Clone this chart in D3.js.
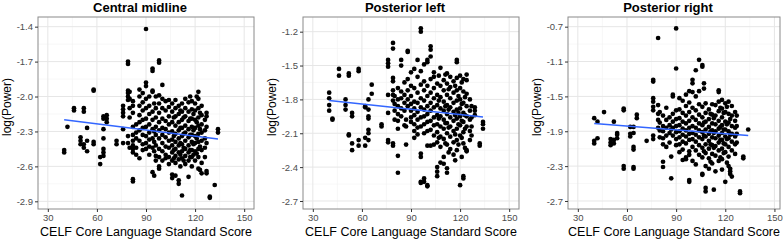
<!DOCTYPE html>
<html>
<head>
<meta charset="utf-8">
<script src="https://cdn.jsdelivr.net/npm/d3@7"></script>
<style>
  body { margin: 0; background: #fff; }
  svg { display: block; font-family: "Liberation Sans", Arial, sans-serif; }
</style>
</head>
<body>
<div id="chart"></div>
<script>
// Panel titles and axis labels
const panelTitles = ["Central midline", "Posterior left", "Posterior right"];
const xAxisTitle = "CELF Core Language Standard Score";
const yAxisTitle = "log(Power)";

// Tick labels
const xTicks = [30, 60, 90, 120, 150];
const yTicksCentral = [-1.4, -1.7, -2.0, -2.3, -2.6, -2.9];
const yTicksLeft = [-1.2, -1.5, -1.8, -2.1, -2.4, -2.7];
const yTicksRight = [-0.7, -1.1, -1.5, -1.9, -2.3, -2.7];

// Linear fit end points
const fitCentral = [[40, -2.20], [134, -2.365]];
const fitLeft = [[40, -1.81], [134, -1.955]];
const fitRight = [[40, -1.81], [134, -1.95]];

// Points: [score, [log power values...]]
const centralMidline = [
  [40, [-2.46, -2.48]],
  [42, [-2.26]],
  [46, [-2.10, -2.12]],
  [50, [-2.35, -2.38, -2.41]],
  [52, [-2.10, -2.13, -2.41, -2.44]],
  [54, [-2.27, -2.38, -2.47]],
  [58, [-1.94, -1.95, -2.39, -2.41]],
  [62, [-2.52, -2.58]],
  [64, [-2.17, -2.19, -2.28, -2.36, -2.45, -2.48, -2.51]],
  [66, [-2.16, -2.19, -2.22]],
  [72, [-2.38, -2.41]],
  [76, [-2.08, -2.11, -2.14, -2.17, -2.28, -2.40]],
  [79, [-1.70, -1.72, -1.95, -1.97, -2.00, -2.03, -2.34, -2.40]],
  [80, [-1.96, -2.02, -2.10, -2.18, -2.44]],
  [82, [-2.04, -2.08, -2.14, -2.26, -2.33, -2.38, -2.42, -2.45, -2.48, -2.71, -2.73]],
  [84, [-2.24, -2.31, -2.36, -2.44, -2.50]],
  [86, [-1.94, -2.00, -2.08, -2.16, -2.22, -2.29, -2.38, -2.53]],
  [88, [-1.97, -2.05, -2.12, -2.20, -2.27, -2.33, -2.41, -2.46]],
  [90, [-1.42, -1.88, -1.91, -2.02, -2.10, -2.19, -2.26, -2.34, -2.40, -2.45]],
  [92, [-2.00, -2.08, -2.15, -2.24, -2.31, -2.37, -2.43, -2.50]],
  [94, [-1.76, -1.78, -1.95, -1.96, -2.13, -2.20, -2.28, -2.36, -2.44, -2.65]],
  [95, [-2.06, -2.30, -2.39, -2.47, -2.68]],
  [96, [-2.00, -2.10, -2.18, -2.26, -2.33, -2.42, -2.51, -2.55]],
  [98, [-1.69, -1.71, -1.99, -2.06, -2.14, -2.22, -2.29, -2.36, -2.45, -2.52, -2.60, -2.62]],
  [100, [-1.90, -2.02, -2.10, -2.19, -2.27, -2.33, -2.40, -2.47, -2.55]],
  [102, [-2.04, -2.12, -2.21, -2.28, -2.35, -2.43, -2.50, -2.53]],
  [104, [-2.03, -2.09, -2.17, -2.24, -2.31, -2.38, -2.44, -2.52, -2.58]],
  [106, [-2.06, -2.13, -2.22, -2.30, -2.37, -2.42, -2.48, -2.55, -2.67, -2.70]],
  [107, [-2.18, -2.34, -2.46, -2.53]],
  [108, [-2.03, -2.10, -2.17, -2.25, -2.32, -2.39, -2.45, -2.51, -2.57, -2.68]],
  [110, [-2.08, -2.15, -2.22, -2.29, -2.36, -2.42, -2.48, -2.54, -2.72, -2.75]],
  [111, [-2.12, -2.27, -2.40, -2.50, -2.60]],
  [112, [-2.06, -2.13, -2.20, -2.27, -2.34, -2.41, -2.47, -2.53, -2.85]],
  [113, [-2.18, -2.32, -2.44, -2.55]],
  [114, [-2.02, -2.10, -2.17, -2.25, -2.31, -2.38, -2.45, -2.51, -2.58]],
  [116, [-2.05, -2.13, -2.21, -2.28, -2.35, -2.42, -2.48, -2.55, -2.69]],
  [117, [-2.00, -2.19, -2.33, -2.46, -2.52]],
  [118, [-2.04, -2.11, -2.19, -2.26, -2.33, -2.39, -2.46, -2.52, -2.60]],
  [119, [-2.15, -2.29, -2.41, -2.50]],
  [120, [-2.06, -2.12, -2.20, -2.27, -2.34, -2.40, -2.47, -2.55]],
  [121, [-2.00, -2.22, -2.36, -2.49]],
  [122, [-1.96, -2.02, -2.10, -2.18, -2.25, -2.32, -2.39, -2.45, -2.52, -2.62]],
  [123, [-2.14, -2.28, -2.43, -2.63]],
  [124, [-2.08, -2.16, -2.24, -2.31, -2.38, -2.46, -2.57, -2.66]],
  [126, [-2.20, -2.29, -2.36, -2.44, -2.52]],
  [127, [-2.14, -2.17, -2.26, -2.40, -2.64, -2.66]],
  [129, [-2.86, -2.87]],
  [132, [-2.76]],
  [134, [-2.28, -2.31]]
];

const posteriorLeft = [
  [40, [-1.74, -1.79, -1.85, -1.90]],
  [42, [-1.97, -1.98]],
  [46, [-1.53, -1.59]],
  [50, [-1.80, -1.85, -1.89]],
  [52, [-1.57, -1.59, -2.11, -2.12]],
  [54, [-1.92, -1.95, -2.19, -2.25]],
  [58, [-1.53, -1.55, -2.16, -2.21]],
  [62, [-1.86, -1.87, -2.14, -2.21]],
  [64, [-1.80, -1.89, -1.95, -1.97, -2.07, -2.10, -2.16]],
  [66, [-1.67, -1.75]],
  [72, [-2.02, -2.04]],
  [76, [-1.45, -1.48, -1.51, -1.76, -1.92, -2.16, -2.18]],
  [79, [-1.30, -1.35, -1.61, -1.64, -1.72, -1.76, -1.81, -2.19, -2.21]],
  [80, [-1.77, -1.84, -1.90, -1.98]],
  [82, [-1.70, -1.80, -1.86, -1.93, -1.99, -2.06, -2.30, -2.45]],
  [84, [-1.45, -1.50, -1.73, -1.79, -1.88, -1.95]],
  [86, [-1.65, -1.76, -1.83, -1.90, -2.03]],
  [87, [-1.98, -2.04, -2.20]],
  [88, [-1.37, -1.38, -1.62, -1.72, -1.80, -1.86]],
  [90, [-1.56, -1.68, -1.77, -1.84, -1.90, -1.96, -2.00]],
  [92, [-1.53, -1.70, -1.82, -1.88, -1.94, -2.02, -2.08, -2.14]],
  [94, [-1.45, -1.60, -1.74, -1.83, -1.91, -1.98, -2.05, -2.11]],
  [96, [-1.17, -1.20, -1.55, -1.67, -1.79, -1.87, -1.96, -2.04, -2.28, -2.31, -2.53, -2.54]],
  [98, [-1.49, -1.64, -1.72, -1.81, -1.89, -1.95, -2.02, -2.10, -2.50, -2.53]],
  [100, [-1.45, -1.47, -1.68, -1.77, -1.86, -1.93, -2.00, -2.08, -2.21, -2.56, -2.57]],
  [102, [-1.33, -1.36, -1.42, -1.62, -1.74, -1.83, -1.90, -1.99, -2.07, -2.21]],
  [104, [-1.56, -1.60, -1.70, -1.79, -1.87, -1.96, -2.03, -2.12, -2.20]],
  [106, [-1.66, -1.76, -1.85, -1.94, -2.02, -2.09, -2.18, -2.40, -2.44, -2.48]],
  [107, [-1.59, -1.81, -1.97, -2.14]],
  [108, [-1.52, -1.68, -1.78, -1.88, -1.95, -2.04, -2.13, -2.22, -2.36]],
  [110, [-1.63, -1.72, -1.82, -1.90, -1.98, -2.06, -2.15, -2.31, -2.37]],
  [111, [-1.58, -1.86, -2.01, -2.19]],
  [112, [-1.57, -1.66, -1.76, -1.85, -1.93, -2.01, -2.10, -2.20, -2.41, -2.45]],
  [113, [-1.71, -1.89, -2.05, -2.27]],
  [114, [-1.60, -1.69, -1.79, -1.87, -1.96, -2.04, -2.13, -2.24]],
  [116, [-1.64, -1.74, -1.83, -1.91, -1.99, -2.08, -2.18, -2.29]],
  [117, [-1.68, -1.94, -2.11, -2.34]],
  [118, [-1.45, -1.47, -1.61, -1.72, -1.81, -1.89, -1.97, -2.06, -2.16, -2.25]],
  [119, [-1.77, -1.92, -2.02, -2.20]],
  [120, [-1.59, -1.70, -1.80, -1.88, -1.95, -2.03, -2.12, -2.56]],
  [121, [-1.65, -1.84, -1.99, -2.14, -2.31]],
  [122, [-1.62, -1.73, -1.83, -1.92, -2.00, -2.09, -2.19, -2.48, -2.50]],
  [123, [-1.78, -1.94, -2.06, -2.23]],
  [124, [-1.58, -1.63, -1.75, -1.86, -1.95, -2.04, -2.25, -2.26]],
  [126, [-1.80, -1.90, -1.98, -2.08, -2.16]],
  [127, [-1.86, -1.96, -2.04, -2.12]],
  [129, [-1.87, -1.90, -1.94]],
  [132, [-2.19, -2.21]],
  [134, [-2.00, -2.02, -2.06]]
];

const posteriorRight = [
  [40, [-1.75, -2.01, -2.04]],
  [42, [-1.79, -1.98]],
  [46, [-1.68]],
  [50, [-1.99, -2.03, -2.06]],
  [52, [-1.79, -2.00, -2.04]],
  [54, [-1.92, -1.94, -1.98]],
  [58, [-1.64, -1.66, -2.30, -2.33]],
  [62, [-1.85, -1.93, -1.96]],
  [64, [-1.85, -1.92, -2.08, -2.11, -2.31, -2.33]],
  [66, [-1.71, -1.75]],
  [72, [-2.01]],
  [76, [-1.31, -1.33, -1.52, -1.56, -1.62, -1.66, -1.95, -1.99]],
  [79, [-0.83, -1.60, -1.70, -1.77, -1.86]],
  [80, [-1.68, -1.80, -1.89, -1.97]],
  [82, [-1.72, -1.84, -1.90, -1.98, -2.05, -2.25, -2.31]],
  [84, [-1.63, -1.77, -1.86, -1.95, -2.08]],
  [86, [-1.74, -1.83, -1.92, -2.03]],
  [87, [-1.88, -2.19, -2.44]],
  [88, [-1.48, -1.50, -1.70, -1.79, -1.86, -1.95]],
  [90, [-0.72, -1.18, -1.66, -1.76, -1.84, -1.91, -1.99, -2.06]],
  [92, [-1.52, -1.65, -1.75, -1.83, -1.90, -1.97, -2.05, -2.14]],
  [94, [-1.55, -1.69, -1.79, -1.87, -1.94, -2.02, -2.11, -2.23]],
  [96, [-1.48, -1.61, -1.72, -1.81, -1.89, -1.96, -2.04, -2.20, -2.22]],
  [98, [-1.44, -1.57, -1.68, -1.78, -1.86, -1.93, -2.00, -2.13, -2.17, -2.46, -2.48]],
  [100, [-1.31, -1.35, -1.45, -1.63, -1.74, -1.84, -1.92, -1.99, -2.08, -2.24]],
  [102, [-1.20, -1.50, -1.66, -1.77, -1.86, -1.94, -2.02, -2.12, -2.28]],
  [104, [-1.08, -1.44, -1.59, -1.71, -1.81, -1.89, -1.97, -2.06, -2.17]],
  [106, [-1.14, -1.16, -1.62, -1.74, -1.83, -1.91, -1.99, -2.09, -2.20, -2.39, -2.40]],
  [107, [-1.35, -1.41, -1.80, -1.95, -2.13]],
  [108, [-1.58, -1.69, -1.79, -1.88, -1.96, -2.05, -2.15, -2.30, -2.55, -2.59]],
  [110, [-1.65, -1.76, -1.85, -1.93, -2.01, -2.10, -2.21, -2.33]],
  [111, [-1.70, -1.90, -2.05, -2.25]],
  [112, [-1.59, -1.71, -1.81, -1.89, -1.97, -2.06, -2.16, -2.27]],
  [113, [-1.75, -1.92, -2.09, -2.57]],
  [114, [-1.60, -1.72, -1.82, -1.90, -1.98, -2.07, -2.18, -2.36]],
  [116, [-1.43, -1.45, -1.56, -1.67, -1.78, -1.87, -1.95, -2.03, -2.12, -2.24]],
  [117, [-1.63, -1.85, -2.00, -2.20]],
  [118, [-1.54, -1.64, -1.74, -1.83, -1.92, -2.00, -2.10, -2.22, -2.34]],
  [119, [-1.69, -1.88, -2.04, -2.15]],
  [120, [-1.58, -1.68, -1.79, -1.88, -1.96, -2.05, -2.14, -2.48]],
  [121, [-1.62, -1.82, -1.99, -2.26]],
  [122, [-1.56, -1.70, -1.80, -1.90, -1.98, -2.08, -2.19, -2.30]],
  [123, [-1.76, -1.94, -2.33, -2.36, -2.39]],
  [124, [-1.61, -1.72, -1.84, -1.93, -2.02, -2.12, -2.42]],
  [126, [-1.68, -1.78, -1.86, -1.96, -2.05, -2.16]],
  [127, [-1.72, -1.84, -1.93, -2.03]],
  [129, [-2.59, -2.61]],
  [131, [-2.19, -2.21]],
  [134, [-1.88]]
];

// Layout of the three panels (pixels) and their axis domains
const panelTop = 17, panelBottom = 209;
const panels = [
  { data: centralMidline, fit: fitCentral, yTicks: yTicksCentral,
    left: 38, right: 254, xDomain: [24, 156], yDomain: [-2.966, -1.317] },
  { data: posteriorLeft, fit: fitLeft, yTicks: yTicksLeft,
    left: 303, right: 519, xDomain: [24, 156], yDomain: [-2.771, -1.070] },
  { data: posteriorRight, fit: fitRight, yTicks: yTicksRight,
    left: 568, right: 780, xDomain: [24, 153.4], yDomain: [-2.792, -0.589] }
];

const svg = d3.select("#chart").append("svg")
  .attr("width", 784)
  .attr("height", 241);

panels.forEach((p, i) => {
  const x = d3.scaleLinear().domain(p.xDomain).range([p.left, p.right]);
  const y = d3.scaleLinear().domain(p.yDomain).range([panelBottom, panelTop]);

  const g = svg.append("g");

  // minor breaks halfway between the majors
  const xMinor = d3.pairs(xTicks).map(([a, b]) => (a + b) / 2);
  const yMinor = d3.pairs(p.yTicks).map(([a, b]) => (a + b) / 2);

  g.append("rect")
    .attr("x", p.left).attr("y", panelTop)
    .attr("width", p.right - p.left).attr("height", panelBottom - panelTop)
    .attr("fill", "#fff");

  // minor grid
  g.selectAll(".xminor").data(xMinor).enter().append("line")
    .attr("x1", d => x(d)).attr("x2", d => x(d))
    .attr("y1", panelTop).attr("y2", panelBottom)
    .attr("stroke", "#f2f2f2").attr("stroke-width", 0.6);
  g.selectAll(".yminor").data(yMinor).enter().append("line")
    .attr("y1", d => y(d)).attr("y2", d => y(d))
    .attr("x1", p.left).attr("x2", p.right)
    .attr("stroke", "#f2f2f2").attr("stroke-width", 0.6);

  // major grid
  g.selectAll(".xmajor").data(xTicks).enter().append("line")
    .attr("x1", d => x(d)).attr("x2", d => x(d))
    .attr("y1", panelTop).attr("y2", panelBottom)
    .attr("stroke", "#e6e6e6").attr("stroke-width", 1);
  g.selectAll(".ymajor").data(p.yTicks).enter().append("line")
    .attr("y1", d => y(d)).attr("y2", d => y(d))
    .attr("x1", p.left).attr("x2", p.right)
    .attr("stroke", "#e6e6e6").attr("stroke-width", 1);

  // points
  const pts = p.data.flatMap(([score, vals]) => vals.map(v => [score, v]));
  g.selectAll(".pt").data(pts).enter().append("circle")
    .attr("cx", d => x(d[0]))
    .attr("cy", d => y(d[1]))
    .attr("r", 2.35)
    .attr("fill", "#000");

  // fitted line
  g.append("path")
    .datum(p.fit)
    .attr("d", d3.line().x(d => x(d[0])).y(d => y(d[1])))
    .attr("fill", "none")
    .attr("stroke", "#3366FF")
    .attr("stroke-width", 1.5);

  // panel border
  g.append("rect")
    .attr("x", p.left).attr("y", panelTop)
    .attr("width", p.right - p.left).attr("height", panelBottom - panelTop)
    .attr("fill", "none").attr("stroke", "#8a8a8a").attr("stroke-width", 1);

  // axes
  const xAxis = g.append("g")
    .attr("transform", `translate(0,${panelBottom})`)
    .call(d3.axisBottom(x).tickValues(xTicks).tickSize(3).tickPadding(2).tickFormat(d3.format("d")));
  const yAxis = g.append("g")
    .attr("transform", `translate(${p.left},0)`)
    .call(d3.axisLeft(y).tickValues(p.yTicks).tickSize(3).tickPadding(2).tickFormat(d => d.toFixed(1)));
  [xAxis, yAxis].forEach(a => {
    a.select(".domain").remove();
    a.selectAll(".tick line").attr("stroke", "#333");
    a.selectAll("text")
      .attr("fill", "#4d4d4d")
      .style("font-size", "9.5px")
      .style("font-family", "'Liberation Sans', Arial, sans-serif");
  });

  // title
  g.append("text")
    .attr("x", (p.left + p.right) / 2 - 6)
    .attr("y", 12)
    .attr("text-anchor", "middle")
    .style("font-size", "13px")
    .style("font-weight", "bold")
    .text(panelTitles[i]);

  // x axis title
  g.append("text")
    .attr("x", (p.left + p.right) / 2)
    .attr("y", 236)
    .attr("text-anchor", "middle")
    .style("font-size", "12.5px")
    .text(xAxisTitle);

  // y axis title
  g.append("text")
    .attr("transform", `translate(${p.left - 27.5},${(panelTop + panelBottom) / 2 - 6}) rotate(-90)`)
    .attr("text-anchor", "middle")
    .style("font-size", "12px")
    .text(yAxisTitle);
});
</script>
</body>
</html>
